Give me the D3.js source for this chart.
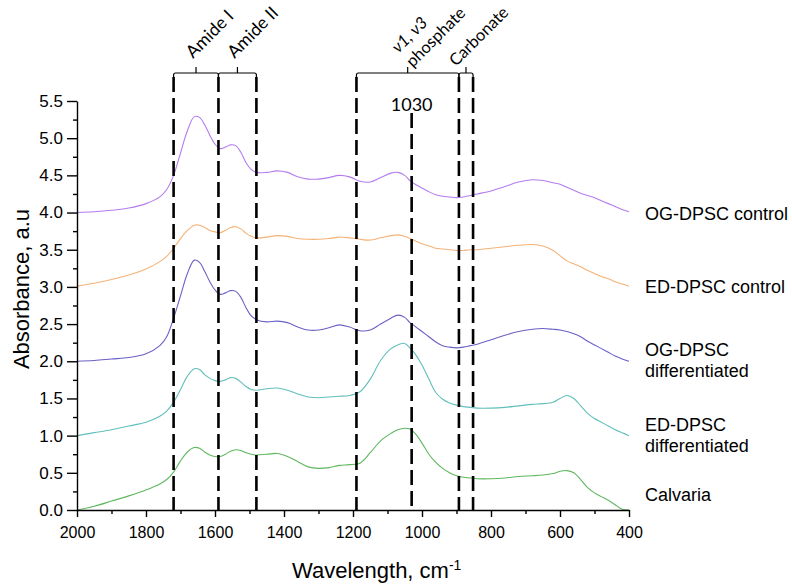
<!DOCTYPE html>
<html><head><meta charset="utf-8">
<script src="https://cdn.jsdelivr.net/npm/d3@7/dist/d3.min.js"></script>
<style>
body{margin:0;background:#fff;}
svg{display:block;}
</style></head><body>
<svg id="chart" width="792" height="586"></svg>
<script>
// ---------- DATA ----------
const wavenumbers = [2000,1950,1900,1850,1800,1760,1740,1720,1700,1680,1660,1645,1630,1615,1600,1585,1570,1555,1540,1525,1510,1495,1480,1450,1420,1390,1360,1330,1300,1270,1240,1210,1180,1150,1120,1090,1070,1050,1035,1020,1000,980,960,940,920,900,880,860,840,800,760,720,680,650,620,600,580,560,540,520,500,480,460,440,420,400];

const ogControl = [4.00,4.01,4.03,4.06,4.12,4.21,4.31,4.50,4.80,5.10,5.29,5.28,5.18,5.04,4.92,4.86,4.88,4.91,4.90,4.81,4.67,4.58,4.54,4.54,4.56,4.54,4.48,4.45,4.45,4.47,4.50,4.48,4.42,4.41,4.47,4.53,4.54,4.50,4.43,4.38,4.33,4.28,4.24,4.22,4.21,4.20,4.21,4.23,4.25,4.29,4.35,4.41,4.44,4.43,4.40,4.38,4.34,4.30,4.26,4.23,4.20,4.16,4.12,4.08,4.04,4.01];

const edControl = [3.01,3.05,3.10,3.16,3.24,3.34,3.41,3.52,3.65,3.76,3.83,3.83,3.80,3.76,3.74,3.73,3.76,3.80,3.81,3.78,3.72,3.68,3.66,3.67,3.69,3.68,3.65,3.64,3.64,3.65,3.67,3.66,3.64,3.63,3.66,3.69,3.70,3.68,3.65,3.62,3.58,3.55,3.52,3.51,3.50,3.49,3.49,3.50,3.50,3.52,3.54,3.56,3.57,3.55,3.49,3.42,3.35,3.31,3.27,3.22,3.18,3.14,3.11,3.07,3.04,3.01];

const ogDifferentiated = [2.00,2.01,2.03,2.05,2.10,2.21,2.33,2.58,2.88,3.18,3.36,3.33,3.21,3.07,2.96,2.90,2.92,2.95,2.94,2.86,2.72,2.61,2.56,2.53,2.54,2.52,2.46,2.42,2.42,2.45,2.49,2.46,2.41,2.42,2.50,2.58,2.62,2.59,2.52,2.47,2.40,2.33,2.26,2.21,2.19,2.18,2.19,2.21,2.23,2.29,2.35,2.40,2.43,2.44,2.43,2.42,2.40,2.37,2.33,2.27,2.22,2.17,2.12,2.07,2.03,2.00];

const edDifferentiated = [1.00,1.04,1.08,1.13,1.18,1.26,1.33,1.45,1.62,1.80,1.90,1.89,1.82,1.77,1.74,1.73,1.75,1.78,1.77,1.72,1.66,1.62,1.61,1.63,1.64,1.61,1.56,1.52,1.51,1.52,1.53,1.54,1.59,1.76,2.01,2.17,2.22,2.24,2.18,2.10,1.95,1.76,1.58,1.49,1.44,1.41,1.39,1.38,1.37,1.37,1.38,1.40,1.42,1.43,1.45,1.50,1.54,1.50,1.40,1.30,1.23,1.18,1.13,1.08,1.04,1.00];

const calvaria = [0.00,0.05,0.12,0.19,0.27,0.35,0.41,0.51,0.66,0.78,0.84,0.83,0.78,0.74,0.72,0.72,0.75,0.79,0.81,0.80,0.77,0.75,0.74,0.75,0.76,0.72,0.65,0.58,0.56,0.57,0.60,0.61,0.63,0.77,0.93,1.03,1.08,1.10,1.09,1.03,0.90,0.75,0.64,0.56,0.50,0.46,0.44,0.43,0.42,0.42,0.43,0.45,0.46,0.47,0.49,0.52,0.53,0.50,0.41,0.30,0.23,0.18,0.13,0.07,0.01,0.00];

const seriesValues = [ogControl, edControl, ogDifferentiated, edDifferentiated, calvaria];
const seriesLabels = [["OG-DPSC control"],["ED-DPSC control"],["OG-DPSC","differentiated"],["ED-DPSC","differentiated"],["Calvaria"]];
const seriesColors = ["#b47cf0","#f5b276","#6a60c6","#62bfbb","#5fb85f"];

const xTicks = [2000,1800,1600,1400,1200,1000,800,600,400];
const xMinorTicks = [1900,1700,1500,1300,1100,900,700,500];
const yTicks = [0,0.5,1.0,1.5,2.0,2.5,3.0,3.5,4.0,4.5,5.0,5.5];
const yMinorTicks = [0.25,0.75,1.25,1.75,2.25,2.75,3.25,3.75,4.25,4.75,5.25];

const bandLines = [1720,1590,1480,1190,1030,893,852];
const markedPeak = 1030;
const brackets = [
  {from:1720, to:1590, lines:["Amide I"]},
  {from:1590, to:1480, lines:["Amide II"]},
  {from:1190, to:893,  lines:["ν1, ν3","phosphate"]},
  {from:893,  to:852,  lines:["Carbonate"]}
];

// ---------- LAYOUT ----------
const svg = d3.select("#chart");
const x = d3.scaleLinear().domain([2000,400]).range([77,629]);
const y = d3.scaleLinear().domain([0,5.5]).range([510,101]);
const AX_FONT = "'Liberation Sans', Arial, Helvetica, sans-serif";
const ANN_FONT = "Lato, 'Open Sans', sans-serif";

// curves
const line = d3.line()
  .x((d,i)=>x(wavenumbers[i]))
  .y(d=>y(d))
  .curve(d3.curveCatmullRom.alpha(0.5));

svg.append("g").selectAll("path").data(seriesValues).join("path")
  .attr("d", d=>line(d))
  .attr("fill","none")
  .attr("stroke",(d,i)=>seriesColors[i])
  .attr("stroke-width",1.1);

// dashed band lines
svg.append("g").selectAll("line").data(bandLines).join("line")
  .attr("x1",d=>x(d)).attr("x2",d=>x(d))
  .attr("y1",d=>d===markedPeak?113:77)
  .attr("y2",y(0))
  .attr("stroke","#000").attr("stroke-width",2.6)
  .attr("stroke-dasharray","15,6");

// brackets
const bg = svg.append("g");
brackets.forEach(b=>{
  const x1 = x(b.from), x2 = x(b.to), xm = (x1+x2)/2;
  bg.append("path")
    .attr("d",`M${x1},80 L${x1},75 Q${x1},73 ${x1+2},73 L${x2-2},73 Q${x2},73 ${x2},75 L${x2},80 M${xm},73 L${xm},67`)
    .attr("fill","none").attr("stroke","#000").attr("stroke-width",1.2);
  const n = b.lines.length;
  const lh = 20;
  let baseX, baseY, fs;
  if (n > 1) { baseX = xm + 5; baseY = 68; fs = 16.5; }
  else if (b.from === 893) { baseX = xm - 10; baseY = 67; fs = 16.5; }
  else { baseX = xm - 3; baseY = 59; fs = 17.5; }
  b.lines.forEach((t,k)=>{
    const off = (n-1-k)*lh*Math.SQRT1_2;
    bg.append("text")
      .attr("transform",`translate(${baseX-off},${baseY-off}) rotate(-45)`)
      .attr("font-family",ANN_FONT).attr("font-size",fs)
      .attr("font-style", t.startsWith("ν")?"italic":"normal")
      .attr("fill","#000")
      .text(t);
  });
});
svg.append("text").attr("x",x(markedPeak)).attr("y",111)
  .attr("text-anchor","middle").attr("font-family",ANN_FONT).attr("font-size",18)
  .text(String(markedPeak));

// axes
svg.append("g").attr("class","xaxis").attr("transform",`translate(0,${y(0)})`)
  .call(d3.axisBottom(x).tickValues(xTicks).tickFormat(d3.format("d")).tickSizeInner(7).tickSizeOuter(0).tickPadding(10));
svg.append("g").attr("transform",`translate(0,${y(0)})`)
  .call(d3.axisBottom(x).tickValues(xMinorTicks).tickFormat("").tickSizeInner(4).tickSizeOuter(0))
  .call(g=>g.select(".domain").remove());
svg.append("g").attr("class","yaxis").attr("transform",`translate(${x(2000)},0)`)
  .call(d3.axisLeft(y).tickValues(yTicks).tickFormat(d3.format(".1f")).tickSizeInner(10).tickSizeOuter(0).tickPadding(4));
svg.append("g").attr("transform",`translate(${x(2000)},0)`)
  .call(d3.axisLeft(y).tickValues(yMinorTicks).tickFormat("").tickSizeInner(4).tickSizeOuter(0))
  .call(g=>g.select(".domain").remove());

svg.selectAll(".xaxis .tick text").attr("font-family",AX_FONT).attr("font-size",16).attr("fill","#000");
svg.selectAll(".yaxis .tick text").attr("font-family",AX_FONT).attr("font-size",17).attr("fill","#000");
svg.selectAll(".domain, .tick line").attr("stroke","#000").attr("stroke-width",1.4);

// axis titles
svg.append("text")
  .attr("transform","translate(29,289) rotate(-90)")
  .attr("text-anchor","middle")
  .attr("font-family",AX_FONT).attr("font-size",22)
  .text("Absorbance, a.u");
const xt = svg.append("text").attr("x",292).attr("y",578)
  .attr("font-family",AX_FONT).attr("font-size",22);
xt.append("tspan").text("Wavelength, cm");
xt.append("tspan").attr("font-size",14).attr("dy",-8).text("-1");

// series labels
const legendY = [220, 293, 356, 431, 501];
seriesLabels.forEach((lines,i)=>{
  lines.forEach((t,k)=>{
    svg.append("text").attr("x",645).attr("y",legendY[i]+k*21)
      .attr("font-family",AX_FONT).attr("font-size",18).attr("fill","#000")
      .text(t);
  });
});
</script>
</body></html>
